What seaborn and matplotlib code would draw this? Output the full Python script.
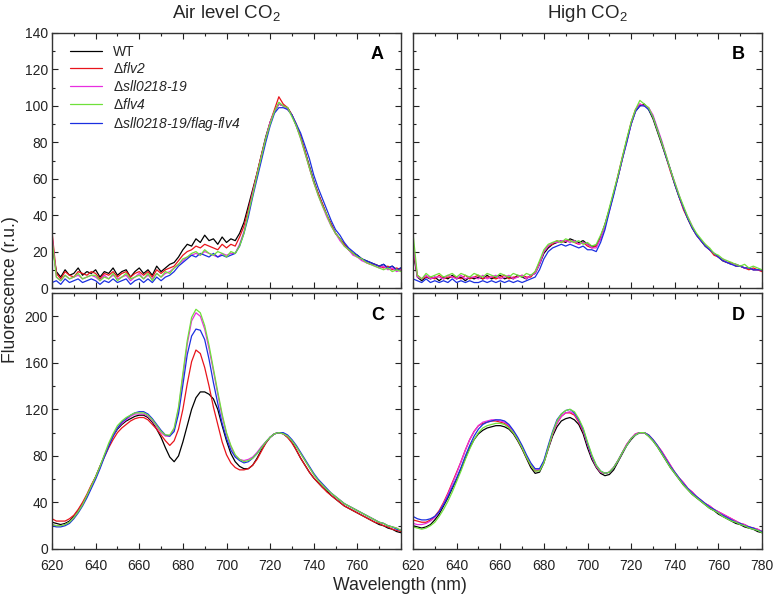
import matplotlib
matplotlib.use("Agg")
import matplotlib.pyplot as plt
import seaborn as sns
import pandas as pd
from matplotlib.ticker import MultipleLocator

# ---------------- data ----------------
WAVELENGTH = list(range(620, 781, 2))

STRAINS = ["WT", "flv2", "sll", "flv4", "flag"]
LABELS = ["WT", r"$\Delta\mathsf{flv2}$", r"$\Delta\mathsf{sll0218‐19}$",
          r"$\Delta\mathsf{flv4}$", r"$\Delta\mathsf{sll0218‐19/flag‐flv4}$"]
COLORS = ["#000000", "#e8141b", "#e82ee0", "#6fe03a", "#1a2fe0"]

# Panel A: air level CO2, top
A_WT = [24, 9, 6, 10, 7, 8, 11, 7, 9, 8,
        10, 6, 9, 8, 11, 7, 9, 10, 6, 9,
        11, 8, 10, 7, 12, 9, 11, 13, 14, 17,
        21, 24, 23, 27, 25, 29, 26, 27, 24, 28,
        25, 27, 26, 30, 36, 45, 54, 63, 73, 83,
        91, 97, 101, 100, 99, 95, 89, 83, 75, 67,
        59, 52, 46, 40, 35, 30, 27, 24, 21, 19,
        18, 16, 15, 14, 13, 12, 13, 11, 12, 10,
        11]
A_FLV2 = [31, 8, 5, 9, 7, 6, 9, 8, 7, 9,
          8, 5, 8, 7, 9, 6, 8, 9, 6, 8,
          9, 7, 9, 6, 10, 8, 10, 11, 12, 15,
          18, 20, 21, 23, 22, 24, 23, 22, 21, 24,
          22, 24, 23, 28, 34, 43, 53, 63, 73, 82,
          91, 98, 105, 101, 99, 95, 90, 83, 75, 66,
          58, 52, 46, 40, 35, 30, 27, 24, 21, 19,
          17, 16, 14, 13, 13, 12, 11, 12, 10, 11,
          10]
A_SLL = [29, 6, 4, 7, 5, 6, 7, 5, 6, 7,
         6, 4, 7, 5, 7, 5, 6, 7, 4, 6,
         8, 5, 7, 5, 8, 6, 8, 9, 11, 13,
         15, 17, 18, 19, 18, 20, 19, 18, 17, 19,
         18, 19, 19, 24, 31, 41, 52, 62, 72, 82,
         91, 97, 101, 100, 98, 95, 89, 82, 74, 66,
         58, 51, 45, 39, 34, 30, 26, 23, 21, 18,
         17, 15, 14, 13, 12, 11, 12, 10, 11, 9,
         10]
A_FLV4 = [27, 6, 4, 7, 5, 6, 8, 5, 6, 7,
          7, 4, 6, 5, 8, 4, 6, 8, 5, 6,
          7, 5, 8, 4, 8, 6, 9, 8, 11, 13,
          16, 17, 19, 20, 18, 21, 19, 18, 20, 19,
          17, 20, 19, 23, 30, 41, 51, 62, 72, 82,
          90, 97, 102, 100, 99, 94, 89, 82, 74, 66,
          58, 51, 45, 40, 34, 30, 27, 23, 21, 19,
          17, 16, 14, 13, 12, 11, 10, 11, 9, 10,
          9]
A_FLAG = [3, 4, 2, 5, 3, 4, 5, 3, 4, 5,
          4, 2, 4, 3, 5, 3, 4, 5, 2, 4,
          5, 3, 5, 3, 6, 4, 6, 7, 9, 12,
          14, 16, 18, 17, 19, 18, 17, 19, 17, 18,
          17, 18, 19, 23, 30, 39, 50, 60, 70, 80,
          89, 96, 99, 99, 98, 95, 90, 85, 78, 71,
          62, 55, 49, 43, 37, 32, 29, 25, 22, 20,
          18, 16, 15, 14, 13, 12, 13, 11, 12, 10,
          11]

# Panel B: high CO2, top
B_WT = [20, 6, 4, 6, 5, 6, 4, 6, 5, 7,
        5, 6, 4, 6, 5, 6, 5, 7, 5, 6,
        7, 5, 6, 5, 7, 6, 5, 7, 8, 13,
        19, 22, 24, 25, 26, 25, 27, 26, 25, 26,
        24, 23, 23, 28, 35, 43, 52, 61, 71, 81,
        90, 97, 100, 101, 98, 93, 86, 79, 72, 65,
        57, 50, 44, 38, 33, 29, 26, 23, 21, 19,
        17, 15, 14, 13, 13, 12, 11, 11, 10, 10,
        10]
B_FLV2 = [22, 7, 5, 6, 6, 5, 7, 5, 6, 6,
          6, 5, 7, 5, 6, 7, 5, 6, 6, 5,
          6, 7, 5, 6, 6, 7, 6, 6, 9, 14,
          20, 23, 24, 26, 25, 26, 26, 25, 24, 25,
          23, 22, 23, 27, 34, 43, 52, 62, 72, 81,
          91, 98, 101, 100, 99, 94, 87, 80, 72, 64,
          57, 50, 43, 38, 33, 29, 26, 23, 21, 18,
          17, 15, 14, 14, 12, 12, 11, 10, 11, 10,
          9]
B_SLL = [24, 6, 5, 7, 5, 6, 6, 5, 7, 6,
         5, 7, 5, 6, 6, 5, 7, 5, 6, 7,
         5, 6, 7, 5, 6, 7, 5, 7, 8, 13,
         20, 23, 25, 25, 26, 26, 25, 26, 24, 25,
         24, 22, 22, 27, 34, 42, 52, 61, 71, 80,
         90, 97, 101, 100, 99, 95, 88, 81, 73, 65,
         58, 51, 44, 39, 34, 29, 26, 24, 21, 19,
         17, 16, 14, 13, 13, 12, 11, 11, 10, 10,
         10]
B_FLV4 = [30, 7, 5, 8, 6, 7, 8, 6, 7, 8,
          6, 8, 7, 6, 8, 7, 6, 8, 7, 6,
          8, 7, 6, 8, 7, 6, 8, 7, 9, 15,
          21, 24, 25, 26, 25, 27, 26, 25, 26, 24,
          25, 23, 24, 29, 35, 44, 53, 62, 72, 82,
          91, 98, 103, 101, 99, 94, 87, 80, 73, 65,
          58, 51, 45, 39, 34, 30, 27, 24, 22, 19,
          18, 16, 15, 14, 13, 12, 13, 11, 12, 11,
          10]
B_FLAG = [5, 4, 3, 5, 3, 4, 3, 4, 3, 5,
          3, 4, 3, 4, 3, 3, 4, 3, 4, 3,
          4, 3, 4, 3, 4, 3, 4, 5, 6, 10,
          16, 20, 22, 23, 24, 23, 24, 23, 22, 23,
          21, 21, 20, 25, 32, 42, 51, 61, 71, 80,
          90, 97, 100, 100, 98, 94, 87, 80, 72, 65,
          57, 50, 44, 38, 33, 29, 26, 23, 21, 19,
          17, 15, 14, 13, 12, 12, 11, 11, 10, 10,
          10]

# Panel C: air level CO2, bottom
C_WT = [23, 22, 21, 22, 24, 28, 33, 39, 46, 54,
        62, 71, 80, 89, 97, 103, 107, 110, 112, 114,
        115, 115, 113, 109, 103, 96, 87, 79, 75, 80,
        92, 106, 120, 130, 135, 135, 133, 129, 120, 106,
        93, 82, 75, 71, 69, 69, 72, 78, 85, 91,
        96, 99, 100, 99, 96, 92, 85, 78, 72, 66,
        61, 57, 53, 50, 46, 43, 40, 37, 35, 33,
        31, 29, 27, 25, 23, 21, 20, 18, 17, 15,
        14]
C_FLV2 = [26, 24, 24, 24, 26, 29, 34, 40, 47, 55,
          62, 71, 79, 87, 94, 100, 104, 107, 110, 112,
          113, 113, 111, 107, 103, 98, 93, 89, 93, 103,
          120, 142, 161, 171, 168, 156, 140, 122, 107, 92,
          81, 74, 70, 68, 68, 69, 72, 77, 84, 91,
          96, 99, 100, 99, 96, 91, 85, 78, 72, 66,
          61, 57, 53, 49, 46, 43, 40, 37, 35, 33,
          31, 29, 27, 25, 23, 22, 20, 19, 17, 16,
          15]
C_SLL = [21, 20, 20, 21, 23, 27, 32, 38, 45, 53,
         61, 70, 80, 89, 97, 104, 108, 111, 114, 116,
         116, 116, 114, 110, 105, 100, 97, 97, 103, 120,
         148, 176, 196, 203, 200, 189, 172, 153, 133, 114,
         99, 88, 80, 77, 76, 77, 79, 83, 88, 92,
         96, 99, 100, 99, 97, 93, 88, 82, 76, 70,
         64, 59, 55, 51, 48, 45, 42, 39, 37, 35,
         33, 31, 29, 27, 25, 23, 22, 20, 19, 18,
         16]
C_FLV4 = [21, 20, 20, 21, 23, 27, 32, 38, 46, 54,
          62, 71, 81, 91, 99, 106, 110, 113, 115, 117,
          117, 117, 115, 111, 106, 101, 98, 98, 104, 122,
          151, 179, 199, 206, 203, 192, 175, 155, 135, 116,
          100, 89, 81, 77, 75, 76, 78, 82, 87, 92,
          96, 99, 100, 99, 97, 93, 88, 82, 76, 70,
          64, 59, 55, 51, 48, 45, 42, 39, 37, 35,
          33, 31, 29, 27, 25, 23, 22, 20, 19, 18,
          16]
C_FLAG = [20, 19, 19, 20, 22, 26, 31, 37, 44, 52,
          60, 69, 79, 88, 97, 104, 109, 112, 115, 117,
          118, 118, 116, 112, 107, 102, 98, 97, 101, 116,
          141, 167, 183, 189, 188, 180, 163, 143, 125, 108,
          95, 85, 79, 76, 74, 75, 78, 82, 87, 92,
          96, 99, 100, 100, 98, 94, 89, 83, 77, 71,
          65, 60, 56, 52, 48, 45, 42, 39, 37, 35,
          33, 31, 29, 27, 25, 23, 22, 20, 19, 17,
          16]

# Panel D: high CO2, bottom
D_WT = [20, 19, 18, 19, 21, 25, 30, 37, 44, 52,
        60, 69, 78, 87, 94, 99, 102, 104, 105, 106,
        106, 105, 103, 99, 93, 86, 78, 70, 65, 66,
        74, 86, 97, 105, 110, 112, 113, 111, 107, 99,
        87, 77, 70, 65, 63, 64, 68, 75, 82, 89,
        94, 98, 100, 100, 97, 93, 88, 82, 76, 70,
        65, 60, 55, 51, 47, 44, 41, 38, 35, 33,
        30, 28, 26, 24, 22, 21, 19, 18, 17, 15,
        14]
D_FLV2 = [25, 24, 23, 23, 25, 28, 33, 40, 48, 57,
          66, 75, 85, 94, 101, 106, 108, 109, 110, 110,
          109, 108, 105, 100, 94, 87, 79, 72, 67, 68,
          75, 87, 99, 108, 114, 117, 117, 115, 109, 101,
          90, 79, 71, 66, 65, 66, 70, 76, 83, 90,
          95, 99, 100, 100, 98, 94, 89, 84, 78, 72,
          66, 61, 57, 52, 49, 45, 42, 39, 37, 34,
          32, 30, 28, 26, 24, 22, 21, 19, 18, 17,
          15]
D_SLL = [22, 21, 21, 22, 24, 27, 32, 39, 47, 56,
         65, 75, 85, 94, 101, 106, 109, 110, 111, 111,
         110, 109, 106, 101, 95, 88, 80, 73, 68, 68,
         75, 87, 99, 108, 114, 117, 118, 116, 110, 102,
         90, 79, 71, 66, 65, 66, 70, 76, 83, 90,
         95, 99, 100, 100, 98, 94, 89, 84, 78, 72,
         66, 61, 57, 52, 49, 45, 42, 39, 37, 34,
         32, 30, 28, 26, 24, 22, 21, 19, 18, 17,
         15]
D_FLV4 = [19, 18, 17, 18, 20, 23, 28, 34, 41, 49,
          58, 67, 77, 86, 94, 100, 104, 106, 107, 108,
          108, 107, 104, 100, 94, 87, 79, 72, 67, 67,
          74, 87, 100, 110, 116, 119, 120, 118, 112, 104,
          92, 81, 72, 67, 65, 66, 70, 76, 83, 89,
          95, 98, 100, 100, 97, 93, 88, 82, 76, 70,
          65, 60, 55, 51, 47, 44, 41, 38, 35, 33,
          31, 28, 26, 24, 23, 21, 20, 18, 17, 16,
          14]
D_FLAG = [28, 26, 25, 25, 26, 28, 32, 38, 45, 53,
          61, 70, 80, 89, 97, 103, 107, 109, 110, 111,
          111, 110, 107, 102, 96, 89, 81, 74, 69, 69,
          76, 89, 101, 111, 116, 119, 120, 117, 111, 103,
          91, 80, 72, 67, 65, 66, 70, 76, 83, 89,
          95, 98, 100, 100, 98, 94, 89, 83, 77, 71,
          66, 61, 56, 52, 48, 45, 42, 39, 36, 34,
          31, 29, 27, 25, 23, 22, 20, 19, 18, 16,
          15]

PANELS = {
    "A": [A_WT, A_FLV2, A_SLL, A_FLV4, A_FLAG],
    "B": [B_WT, B_FLV2, B_SLL, B_FLV4, B_FLAG],
    "C": [C_WT, C_FLV2, C_SLL, C_FLV4, C_FLAG],
    "D": [D_WT, D_FLV2, D_SLL, D_FLV4, D_FLAG],
}
ZORDER = [2, 2.1, 2.2, 2.4, 2.3]

# ---------------- style ----------------
sns.set_style("ticks")
plt.rcParams["font.family"] = ["Liberation Sans", "DejaVu Sans"]
plt.rcParams["mathtext.fontset"] = "custom"
plt.rcParams["mathtext.rm"] = "Liberation Sans"
plt.rcParams["mathtext.it"] = "Liberation Sans:italic"
plt.rcParams["mathtext.sf"] = "Liberation Sans:italic"
plt.rcParams["mathtext.bf"] = "Liberation Sans:bold"

W, H = 774, 601
fig = plt.figure(figsize=(W / 100, H / 100), dpi=100)

def box(x0, y0, x1, y1):
    return [x0 / W, 1 - y1 / H, (x1 - x0) / W, (y1 - y0) / H]

axes = {
    "A": fig.add_axes(box(52, 33, 401, 288)),
    "B": fig.add_axes(box(413, 33, 762, 288)),
    "C": fig.add_axes(box(52, 293, 401, 549)),
    "D": fig.add_axes(box(413, 293, 762, 549)),
}

for key, ax in axes.items():
    series = PANELS[key]
    for name, label, color, vals, z in zip(STRAINS, LABELS, COLORS, series, ZORDER):
        df = pd.DataFrame({"Wavelength": WAVELENGTH, "Fluorescence": vals})
        sns.lineplot(data=df, x="Wavelength", y="Fluorescence", color=color,
                     lw=0.9, ax=ax, zorder=z, label=label if key == "A" else None)
    ax.set_xlim(620, 780)
    if key in ("A", "B"):
        ax.set_ylim(0, 140)
        ax.yaxis.set_major_locator(MultipleLocator(20))
        ax.yaxis.set_minor_locator(MultipleLocator(10))
    else:
        ax.set_ylim(0, 220)
        ax.yaxis.set_major_locator(MultipleLocator(40))
        ax.yaxis.set_minor_locator(MultipleLocator(20))
    ax.xaxis.set_major_locator(MultipleLocator(20))
    ax.xaxis.set_minor_locator(MultipleLocator(10))
    ax.tick_params(which="both", direction="in", top=True, right=True,
                   labelsize=10, colors="#222222", width=0.8)
    ax.tick_params(which="major", length=4.5, pad=3)
    ax.tick_params(which="minor", length=2.5)
    ax.tick_params(axis="x", which="major", pad=7)
    for sp in ax.spines.values():
        sp.set_visible(True)
        sp.set_linewidth(1.0)
        sp.set_color("#333333")
    ax.set_xlabel("")
    ax.set_ylabel("")
    if key in ("A", "B"):
        ax.tick_params(labelbottom=False)
    if key in ("B", "D"):
        ax.tick_params(labelleft=False)
    if key == "C":
        ax.set_xticks([620, 640, 660, 680, 700, 720, 740, 760, 780])
        ax.set_xticklabels(["620", "640", "660", "680", "700", "720", "740", "760", ""])
    ax.text(0.951, 0.914, key, transform=ax.transAxes, ha="right", va="center",
            fontsize=13, fontweight="bold", color="black")

leg = axes["A"].legend(loc="upper left", bbox_to_anchor=(12 / 349, 1 - 6 / 255),
                       borderaxespad=0, frameon=False, fontsize=10,
                       handlelength=2.3, handletextpad=0.8, labelspacing=0.2)
for line in leg.get_lines():
    line.set_linewidth(0.9)

fig.text(226.5 / W, 1 - 13 / H, "Air level CO$_2$", ha="center", va="center", fontsize=13.5)
fig.text(587.5 / W, 1 - 13 / H, "High CO$_2$", ha="center", va="center", fontsize=13.5)
fig.text(400 / W, 1 - 585 / H, "Wavelength (nm)", ha="center", va="center", fontsize=12.7)
fig.text(11 / W, 1 - 290 / H, "Fluorescence (r.u.)", ha="center", va="center",
         rotation=90, fontsize=12.7)

fig.savefig("out.png", dpi=100)
